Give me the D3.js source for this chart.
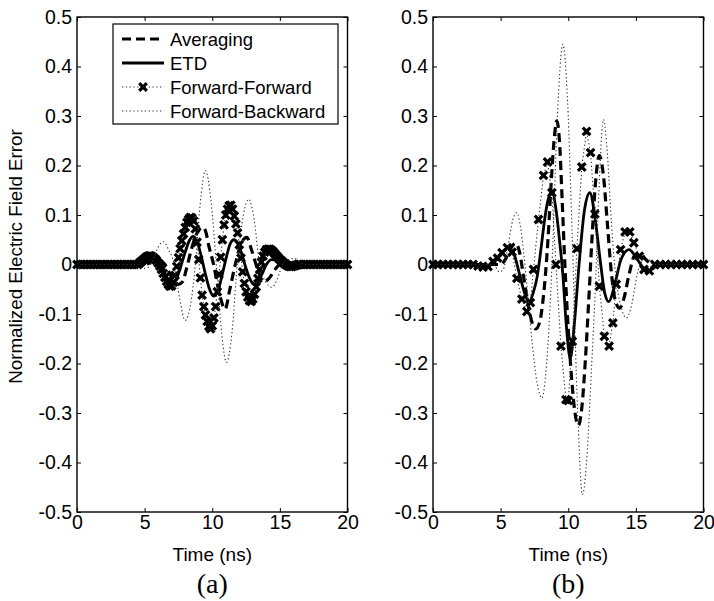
<!DOCTYPE html>
<html><head><meta charset="utf-8">
<script src="https://cdn.jsdelivr.net/npm/d3@7"></script>
<style>body{margin:0;background:#fff} svg{display:block}</style>
</head><body>
<svg id="chart" width="714" height="601"></svg>
<script>
// ---------- data ----------
const timeTicks = [0, 5, 10, 15, 20];
const errorTicks = [-0.5, -0.4, -0.3, -0.2, -0.1, 0, 0.1, 0.2, 0.3, 0.4, 0.5];
const seriesNames = ["Averaging", "ETD", "Forward-Forward", "Forward-Backward"];
const panelLabels = ["(a)", "(b)"];
const xLabel = "Time (ns)";
const yLabel = "Normalized Electric Field Error";

// panel (a): [time ns, normalized error]
const averagingA = [[0,0],[5,0],[5.5,0.005],[6,0.01],[6.5,0],[7,-0.025],[7.5,-0.04],[7.8,-0.035],[8.1,-0.008],[8.5,0.035],[8.9,0.065],[9.3,0.075],[9.5,0.068],[9.75,0.037],[10.1,0],[10.5,-0.055],[10.95,-0.09],[11.3,-0.05],[11.7,0],[12.1,0.04],[12.55,0.055],[12.9,0.03],[13.3,-0.005],[13.8,-0.035],[14.2,-0.028],[14.7,-0.008],[15.2,0.003],[15.8,0],[20,0]];
const etdA = [[0,0],[4.5,0],[5,0.008],[5.6,0.015],[6.2,0.002],[6.6,-0.025],[7.0,-0.04],[7.3,-0.033],[7.6,-0.01],[8.0,0.025],[8.3,0.048],[8.6,0.057],[8.9,0.045],[9.2,0.015],[9.5,-0.02],[9.8,-0.05],[10.1,-0.064],[10.4,-0.055],[10.7,-0.025],[11.0,0.01],[11.3,0.04],[11.6,0.05],[11.9,0.042],[12.2,0.02],[12.5,-0.008],[12.8,-0.03],[13.1,-0.04],[13.4,-0.035],[13.7,-0.018],[14.0,0],[14.4,0.01],[14.8,0.008],[15.2,0],[15.6,-0.004],[16.0,-0.003],[16.5,0],[20,0]];
const forwardForwardA = [[0,0],[0.25,0],[0.5,0],[0.75,0],[1,0],[1.25,0],[1.5,0],[1.75,0],[2,0],[2.25,0],[2.5,0],[2.75,0],[3,0],[3.25,0],[3.5,0],[3.75,0],[4,0],[4.25,0],[4.5,0],
[4.625,0.003],[4.75,0.006],[4.875,0.009],[5,0.012],[5.125,0.015],[5.25,0.017],[5.375,0.018],[5.5,0.017],[5.625,0.015],[5.75,0.012],[5.875,0.008],[6,0.003],[6.125,-0.003],[6.25,-0.01],[6.375,-0.018],[6.5,-0.026],[6.625,-0.034],[6.75,-0.04],[6.875,-0.044],[7,-0.043],[7.125,-0.036],[7.25,-0.022],[7.375,-0.004],[7.5,0.014],[7.625,0.032],[7.75,0.048],[7.875,0.062],[8,0.075],[8.125,0.085],[8.25,0.091],[8.375,0.095],[8.5,0.094],[8.625,0.088],[8.75,0.072],[8.875,0.045],[9,0.01],[9.125,-0.027],[9.25,-0.062],[9.375,-0.085],[9.5,-0.102],[9.625,-0.115],[9.75,-0.125],[9.875,-0.13],[10,-0.124],[10.125,-0.108],[10.25,-0.085],[10.375,-0.055],[10.5,-0.02],[10.625,0.015],[10.75,0.05],[10.875,0.08],[11,0.1],[11.125,0.112],[11.25,0.119],[11.375,0.12],[11.5,0.112],[11.625,0.098],[11.75,0.082],[11.875,0.064],[12,0.04],[12.125,0.013],[12.25,-0.015],[12.375,-0.038],[12.5,-0.055],[12.625,-0.066],[12.75,-0.073],[12.875,-0.075],[13,-0.07],[13.125,-0.06],[13.25,-0.045],[13.375,-0.028],[13.5,-0.01],[13.625,0.005],[13.75,0.017],[13.875,0.025],[14,0.03],[14.125,0.031],[14.25,0.031],[14.375,0.029],[14.5,0.026],[14.625,0.022],[14.75,0.018],[14.875,0.014],[15,0.01],[15.125,0.007],[15.25,0.004],[15.375,0.001],[15.5,-0.001],[15.625,-0.003],[15.75,-0.004],[15.875,-0.004],[16,-0.003],[16.125,-0.002],[16.25,-0.001],[16.375,0],[16.5,0],
[16.75,0],[17,0],[17.25,0],[17.5,0],[17.75,0],[18,0],[18.25,0],[18.5,0],[18.75,0],[19,0],[19.25,0],[19.5,0],[19.75,0],[20,0]];
const forwardBackwardA = [[0,0],[4.5,0],[4.9,-0.008],[5.3,-0.005],[5.7,0.015],[6.0,0.035],[6.4,0.046],[6.8,0.028],[7.2,0],[7.6,-0.07],[8.0,-0.113],[8.4,-0.08],[8.75,0],[9.1,0.12],[9.5,0.19],[9.9,0.13],[10.3,0],[10.7,-0.14],[11.05,-0.198],[11.45,-0.14],[11.85,0],[12.3,0.1],[12.7,0.132],[13.1,0.09],[13.5,0],[13.95,-0.035],[14.4,-0.046],[14.8,-0.03],[15.2,0],[15.6,0.01],[16.1,0.012],[16.5,0.004],[17,0],[20,0]];

// panel (b)
const averagingB = [[0,0],[5,0],[5.3,0.008],[5.7,0.03],[6.1,0.043],[6.4,0.025],[6.7,-0.025],[7.0,-0.075],[7.3,-0.115],[7.6,-0.13],[7.9,-0.115],[8.1,-0.08],[8.3,-0.025],[8.5,0.05],[8.75,0.17],[9.0,0.265],[9.15,0.29],[9.35,0.25],[9.55,0.13],[9.75,0],[10.0,-0.13],[10.25,-0.23],[10.5,-0.3],[10.75,-0.325],[11.0,-0.29],[11.25,-0.2],[11.5,-0.08],[11.75,0.05],[12.0,0.16],[12.3,0.22],[12.6,0.18],[12.9,0.08],[13.2,-0.02],[13.5,-0.075],[13.8,-0.088],[14.1,-0.07],[14.5,-0.02],[14.9,0.018],[15.3,0.022],[15.8,0.008],[16.3,0],[20,0]];
const etdB = [[0,0],[3.5,0],[4.0,-0.004],[4.5,0.004],[5.0,0.02],[5.55,0.033],[6.0,0.02],[6.4,-0.02],[6.8,-0.06],[7.1,-0.076],[7.4,-0.058],[7.7,-0.025],[8.0,0.035],[8.25,0.09],[8.5,0.13],[8.8,0.148],[9.1,0.11],[9.35,0.05],[9.6,-0.02],[9.85,-0.12],[10.15,-0.19],[10.45,-0.12],[10.8,0],[11.2,0.11],[11.6,0.145],[12.0,0.09],[12.4,0],[12.7,-0.058],[13.0,-0.075],[13.4,-0.045],[13.9,0.01],[14.5,0.03],[15.0,0.015],[15.5,-0.005],[16.0,-0.012],[16.5,-0.004],[17,0],[20,0]];
const forwardForwardB = [[0,0],[0.37,0],[0.74,0],[1.11,0],[1.48,0],[1.85,0],[2.22,0],[2.59,0],[2.96,0],[3.33,-0.003],[3.7,-0.005],[4.07,-0.004],[4.44,0.006],[4.77,0.013],[5.1,0.024],[5.5,0.034],[5.85,0.025],[6.2,-0.028],[6.57,-0.07],[6.94,-0.095],[7.2,-0.077],[7.43,-0.01],[7.8,0.091],[8.17,0.18],[8.47,0.207],[8.79,0.145],[9.09,0],[9.46,-0.165],[9.83,-0.273],[10.0,-0.275],[10.3,-0.155],[10.64,0.032],[11.0,0.197],[11.35,0.269],[11.65,0.226],[11.97,0.102],[12.3,-0.044],[12.67,-0.145],[13.02,-0.165],[13.3,-0.118],[13.55,-0.04],[13.87,0.03],[14.2,0.066],[14.55,0.066],[14.85,0.044],[15.26,0.017],[15.6,-0.01],[16.0,-0.013],[16.4,0],[16.8,0],[17.2,0],[17.6,0],[18.0,0],[18.4,0],[18.8,0],[19.2,0],[19.6,0],[20,0]];
const forwardBackwardB = [[0,0],[4.5,0],[4.9,-0.015],[5.2,-0.01],[5.5,0.03],[5.9,0.09],[6.2,0.105],[6.5,0.07],[6.9,-0.03],[7.3,-0.15],[7.7,-0.24],[8.05,-0.27],[8.4,-0.2],[8.8,0],[9.2,0.3],[9.6,0.445],[9.95,0.33],[10.3,0.05],[10.7,-0.3],[11.05,-0.465],[11.4,-0.38],[11.7,-0.22],[12.0,-0.05],[12.3,0.17],[12.6,0.293],[12.9,0.22],[13.2,0.08],[13.5,-0.02],[13.9,-0.085],[14.3,-0.108],[14.7,-0.08],[15.1,-0.02],[15.5,0.01],[15.9,0.012],[16.3,0],[20,0]];

// ---------- drawing ----------
const svg = d3.select("#chart");
const FONT = "'Liberation Sans', Arial, Helvetica, sans-serif";
const panels = [
  {left: 77, label: panelLabels[0], avg: averagingA, etd: etdA, ff: forwardForwardA, fb: forwardBackwardA, legend: true},
  {left: 433, label: panelLabels[1], avg: averagingB, etd: etdB, ff: forwardForwardB, fb: forwardBackwardB, legend: false}
];
const PW = 270.5, TOP = 17, BOTTOM = 512;
const styles = {
  avg: {stroke: "#000", width: 3.2, dash: "9,5"},
  etd: {stroke: "#000", width: 2.8, dash: null},
  ff:  {stroke: "#333", width: 1.1, dash: "1.3,2.5"},
  fb:  {stroke: "#333", width: 1.1, dash: "1.3,2.5"}
};
const markerPath = "M-3.8,-3.8L3.8,3.8M-3.8,3.8L3.8,-3.8";
const MARKER_W = 3.2;

function styled(sel, s) {
  sel.attr("fill", "none").attr("stroke", s.stroke).attr("stroke-width", s.width);
  if (s.dash) sel.attr("stroke-dasharray", s.dash);
  return sel;
}

panels.forEach((p, i) => {
  const x = d3.scaleLinear().domain([0, 20]).range([p.left, p.left + PW]);
  const y = d3.scaleLinear().domain([-0.5, 0.5]).range([BOTTOM, TOP]);
  const g = svg.append("g");
  const smooth = d3.line().x(d => x(d[0])).y(d => y(d[1])).curve(d3.curveMonotoneX);
  const straight = d3.line().x(d => x(d[0])).y(d => y(d[1]));

  styled(g.append("path").attr("d", smooth(p.avg)), styles.avg);
  styled(g.append("path").attr("d", smooth(p.etd)), styles.etd);
  styled(g.append("path").attr("d", straight(p.ff)), styles.ff);
  g.append("g").selectAll("path").data(p.ff).join("path")
    .attr("transform", d => `translate(${x(d[0])},${y(d[1])})`)
    .attr("d", markerPath).attr("stroke", "#000").attr("stroke-width", MARKER_W).attr("fill", "none");
  styled(g.append("path").attr("d", smooth(p.fb)), styles.fb);

  // axes
  const fmtY = d => d === 0 ? "0" : d.toFixed(1);
  const ax = [
    g.append("g").attr("transform", `translate(0,${BOTTOM})`)
      .call(d3.axisBottom(x).tickValues(timeTicks).tickSizeInner(-4).tickSizeOuter(0).tickPadding(3).tickFormat(d3.format("d"))),
    g.append("g").attr("transform", `translate(0,${TOP})`)
      .call(d3.axisTop(x).tickValues(timeTicks).tickSizeInner(-4).tickSizeOuter(0).tickFormat("")),
    g.append("g").attr("transform", `translate(${p.left},0)`)
      .call(d3.axisLeft(y).tickValues(errorTicks).tickSizeInner(-4).tickSizeOuter(0).tickPadding(5).tickFormat(fmtY)),
    g.append("g").attr("transform", `translate(${p.left + PW},0)`)
      .call(d3.axisRight(y).tickValues(errorTicks).tickSizeInner(-4).tickSizeOuter(0).tickFormat(""))
  ];
  ax.forEach(a => {
    a.select(".domain").remove();
    a.selectAll("line").attr("stroke", "#000").attr("stroke-width", 1);
    a.selectAll("text").attr("font-family", FONT).attr("font-size", 19.5).attr("fill", "#000");
  });
  g.append("rect").attr("x", p.left).attr("y", TOP).attr("width", PW).attr("height", BOTTOM - TOP)
    .attr("fill", "none").attr("stroke", "#000").attr("stroke-width", 1.4);

  g.append("text").attr("x", p.left + PW / 2).attr("y", 561).attr("text-anchor", "middle")
    .attr("font-family", FONT).attr("font-size", 19).text(xLabel);
  g.append("text").attr("x", p.left + PW / 2).attr("y", 593).attr("text-anchor", "middle")
    .attr("font-family", "'Liberation Serif', 'Times New Roman', serif").attr("font-size", 28).text(p.label);

  if (i === 0) {
    g.append("text").attr("transform", `translate(22,${(TOP + BOTTOM) / 2 - 8}) rotate(-90)`)
      .attr("text-anchor", "middle").attr("font-family", FONT).attr("font-size", 18.8).text(yLabel);
  }

  if (p.legend) {
    const lg = g.append("g");
    lg.append("rect").attr("x", 113).attr("y", 24).attr("width", 225).attr("height", 100)
      .attr("fill", "#fff").attr("stroke", "#000").attr("stroke-width", 1.2);
    const keys = ["avg", "etd", "ff", "fb"];
    keys.forEach((k, j) => {
      const cy = 39 + j * 24;
      styled(lg.append("line").attr("x1", 122).attr("x2", 164).attr("y1", cy).attr("y2", cy), styles[k]);
      if (k === "ff") {
        lg.append("path").attr("transform", `translate(143,${cy})`).attr("d", markerPath)
          .attr("stroke", "#000").attr("stroke-width", MARKER_W).attr("fill", "none");
      }
      lg.append("text").attr("x", 170).attr("y", cy + 6.5).attr("font-family", FONT)
        .attr("font-size", 18.5).text(seriesNames[j]);
    });
  }
});
</script>
</body></html>
